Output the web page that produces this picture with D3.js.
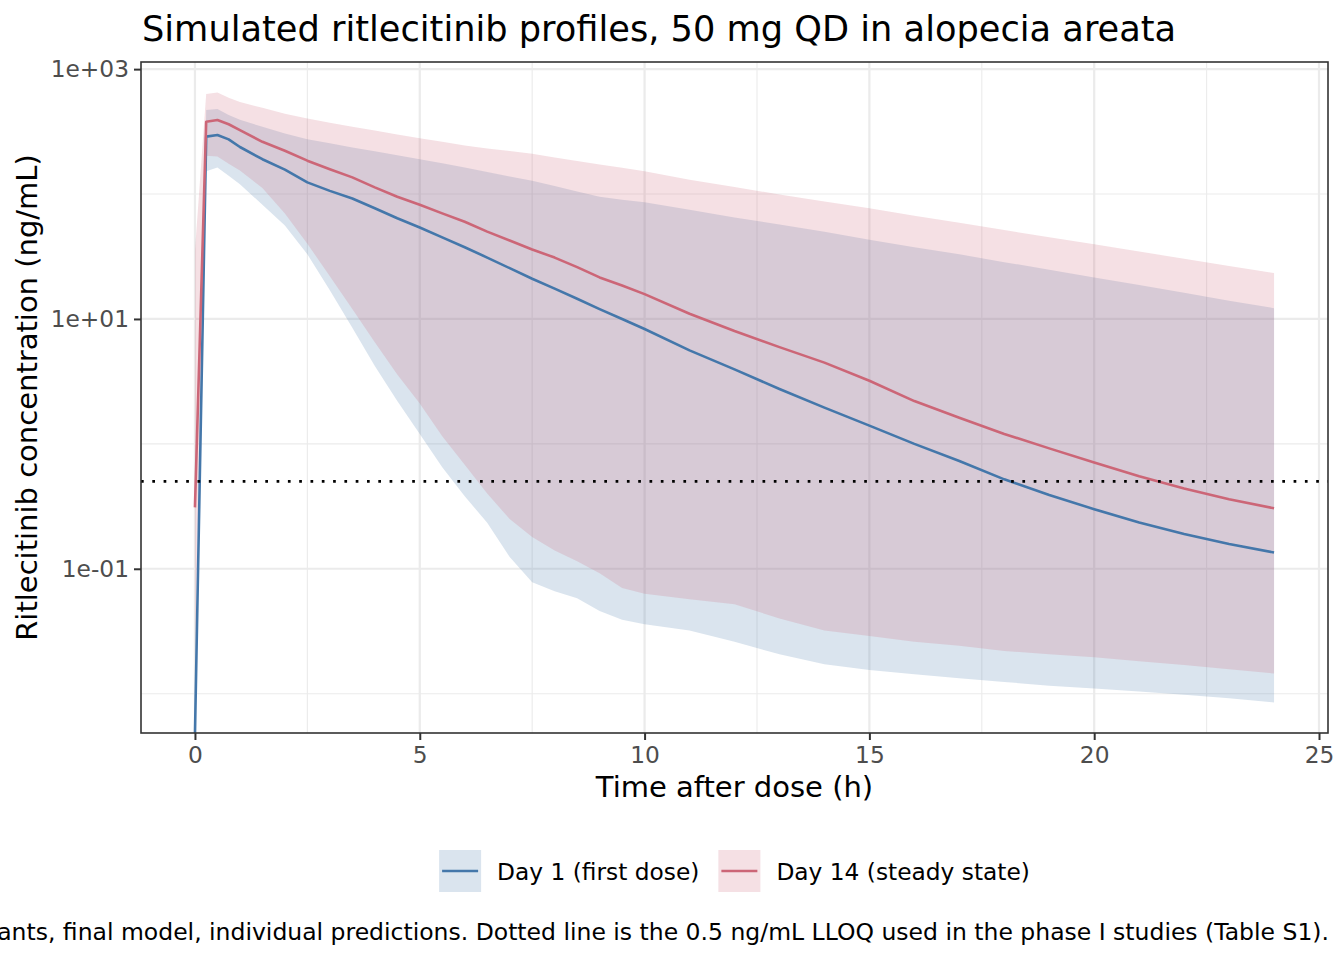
<!DOCTYPE html>
<html>
<head>
<meta charset="utf-8">
<script src="https://cdn.jsdelivr.net/npm/d3@7"></script>
<style>
  html, body { margin: 0; padding: 0; background: #ffffff; }
  svg { display: block; font-family: "DejaVu Sans", sans-serif; }
</style>
</head>
<body>
<svg id="chart" width="1344" height="960"></svg>
<script>
// ---- Data ----
const times = [0,0.25,0.5,0.75,1,1.5,2,2.5,3,3.5,4,4.5,5,5.5,6,6.5,7,7.5,8,8.5,9,9.5,10,11,12,13,14,15,16,17,18,19,20,21,22,23,24];

const day1Median = [0,288,297,274,238,190,157,124,106,92,77,64,54,45,37.5,31,25.5,21,17.5,14.5,12,10,8.3,5.6,3.95,2.75,1.95,1.40,1.0,0.73,0.52,0.39,0.30,0.235,0.19,0.158,0.135];
const day1Lower  = [0,152,163,140,120,82,56,33,17,8.5,4.2,2.2,1.2,0.65,0.38,0.234,0.124,0.078,0.066,0.058,0.046,0.039,0.036,0.032,0.026,0.0207,0.0172,0.0155,0.0143,0.0133,0.0124,0.0116,0.011,0.0104,0.0098,0.0092,0.0085];
const day1Upper  = [0,470,479,430,393,345,305,275,255,236,220,204,190,176,163,150,138,128,116,105,95,90,86,75,65,57,50,43,37.5,33,28.5,24.8,21.5,18.7,16.2,14,12.2];

const day14Median = [0.31,379,391,362,325,262,222,185,158,136,113,95,82,70,60,50,42.5,36,31,26,21.5,18.5,15.8,11,8,5.95,4.47,3.2,2.2,1.62,1.2,0.92,0.71,0.55,0.44,0.36,0.305];
const day14Lower  = [0.02,203,200,175,154,112,70,40,22,12,6.5,3.6,2.1,1.15,0.68,0.40,0.25,0.18,0.14,0.115,0.092,0.07,0.063,0.057,0.052,0.04,0.032,0.029,0.026,0.0242,0.022,0.0207,0.0196,0.0182,0.017,0.0157,0.0145];
const day14Upper  = [35,631,650,590,545,490,440,403,372,345,322,300,280,262,245,232,221,210,196,184,172,162,152,130,114,99,87,77,67,59,51.5,45,39.6,34.6,30.4,26.5,23.3];

const seriesNames = ["Day 1 (first dose)", "Day 14 (steady state)"];
const seriesColors = ["#4477AA", "#CC6677"];
const xTicks = [0, 5, 10, 15, 20, 25];
const xMinor = [2.5, 7.5, 12.5, 17.5, 22.5];
const yTicks = [0.1, 10, 1000];
const yTickLabels = ["1e-01", "1e+01", "1e+03"];
const yMinor = [0.01, 1, 100];
const lloq = 0.5;

const titleText = "Simulated ritlecitinib profiles, 50 mg QD in alopecia areata";
const xTitle = "Time after dose (h)";
const yTitle = "Ritlecitinib concentration (ng/mL)";
const captionText = "Lines are medians and ribbons 90% prediction intervals for simulated participants, final model, individual predictions. Dotted line is the 0.5 ng/mL LLOQ used in the phase I studies (Table S1).";

// ---- Layout ----
const W = 1344, H = 960;
const panel = { left: 141, right: 1328, top: 62, bottom: 733 };

const svg = d3.select("#chart");
svg.append("rect").attr("width", W).attr("height", H).attr("fill", "#ffffff");

// Scales (ggplot-like 5% expansion)
const xExt = d3.extent(times);
const xPad = (xExt[1] - xExt[0]) * 0.05;
const x = d3.scaleLinear().domain([xExt[0] - xPad, xExt[1] + xPad]).range([panel.left, panel.right]);

const allPos = [].concat(day1Median, day1Lower, day1Upper, day14Median, day14Lower, day14Upper).filter(v => v > 0);
const lmin = Math.log10(d3.min(allPos)), lmax = Math.log10(d3.max(allPos));
const lpad = (lmax - lmin) * 0.05;
const y = d3.scaleLog().domain([Math.pow(10, lmin - lpad), Math.pow(10, lmax + lpad)]).range([panel.bottom, panel.top]);
const yv = v => (v > 0 ? y(v) : panel.bottom + 2);

// Clip
svg.append("defs").append("clipPath").attr("id", "panelClip")
  .append("rect").attr("x", panel.left).attr("y", panel.top)
  .attr("width", panel.right - panel.left).attr("height", panel.bottom - panel.top);

// Grid
const grid = svg.append("g");
grid.selectAll(".ymin").data(yMinor).enter().append("line")
  .attr("x1", panel.left).attr("x2", panel.right)
  .attr("y1", d => y(d)).attr("y2", d => y(d))
  .attr("stroke", "#EBEBEB").attr("stroke-width", 1.1);
grid.selectAll(".xmin").data(xMinor).enter().append("line")
  .attr("y1", panel.top).attr("y2", panel.bottom)
  .attr("x1", d => x(d)).attr("x2", d => x(d))
  .attr("stroke", "#EBEBEB").attr("stroke-width", 1.1);
grid.selectAll(".ymaj").data(yTicks).enter().append("line")
  .attr("x1", panel.left).attr("x2", panel.right)
  .attr("y1", d => y(d)).attr("y2", d => y(d))
  .attr("stroke", "#EBEBEB").attr("stroke-width", 2.2);
grid.selectAll(".xmaj").data(xTicks).enter().append("line")
  .attr("y1", panel.top).attr("y2", panel.bottom)
  .attr("x1", d => x(d)).attr("x2", d => x(d))
  .attr("stroke", "#EBEBEB").attr("stroke-width", 2.2);

// Data
const series = [
  { name: seriesNames[0], color: seriesColors[0], med: day1Median, lo: day1Lower, hi: day1Upper },
  { name: seriesNames[1], color: seriesColors[1], med: day14Median, lo: day14Lower, hi: day14Upper }
];
const plot = svg.append("g").attr("clip-path", "url(#panelClip)");

const area = d3.area().x(d => x(d.t)).y0(d => yv(d.lo)).y1(d => yv(d.hi));
const line = d3.line().x(d => x(d.t)).y(d => yv(d.m));

series.forEach(s => {
  const pts = times.map((t, i) => ({ t, lo: s.lo[i], hi: s.hi[i] }));
  plot.append("path").attr("d", area(pts)).attr("fill", s.color).attr("fill-opacity", 0.2);
});
series.forEach(s => {
  const pts = times.map((t, i) => ({ t, m: s.med[i] }));
  plot.append("path").attr("d", line(pts)).attr("fill", "none")
    .attr("stroke", s.color).attr("stroke-width", 2.6).attr("stroke-linejoin", "round");
});

// LLOQ dotted line
plot.append("line")
  .attr("x1", panel.left).attr("x2", panel.right)
  .attr("y1", y(lloq)).attr("y2", y(lloq))
  .attr("stroke", "#000000").attr("stroke-width", 2.7)
  .attr("stroke-dasharray", "2.7,8.6");

// Panel border
svg.append("rect").attr("x", panel.left).attr("y", panel.top)
  .attr("width", panel.right - panel.left).attr("height", panel.bottom - panel.top)
  .attr("fill", "none").attr("stroke", "#333333").attr("stroke-width", 1.6);

// Axes
const xAxis = d3.axisBottom(x).tickValues(xTicks).tickSize(7).tickPadding(6).tickFormat(d3.format("d"));
const gx = svg.append("g").attr("transform", `translate(0,${panel.bottom})`).call(xAxis);
gx.select(".domain").remove();
gx.selectAll(".tick line").attr("stroke", "#333333").attr("stroke-width", 2);
gx.selectAll(".tick text").attr("fill", "#4D4D4D").attr("font-size", 23.3)
  .attr("font-family", "DejaVu Sans");

const yAxis = d3.axisLeft(y).tickValues(yTicks).tickSize(7).tickPadding(5)
  .tickFormat((d, i) => yTickLabels[i]);
const gy = svg.append("g").attr("transform", `translate(${panel.left},0)`).call(yAxis);
gy.select(".domain").remove();
gy.selectAll(".tick line").attr("stroke", "#333333").attr("stroke-width", 2);
gy.selectAll(".tick text").attr("fill", "#4D4D4D").attr("font-size", 23.3)
  .attr("font-family", "DejaVu Sans");

// Titles
svg.append("text").attr("x", panel.left + 1).attr("y", 41)
  .attr("font-size", 35.2).attr("fill", "#000").text(titleText);

svg.append("text").attr("x", (panel.left + panel.right) / 2).attr("y", 797)
  .attr("text-anchor", "middle").attr("font-size", 29).attr("fill", "#000").text(xTitle);

svg.append("text").attr("transform", `translate(37,${(panel.top + panel.bottom) / 2}) rotate(-90)`)
  .attr("text-anchor", "middle").attr("font-size", 29).attr("fill", "#000").text(yTitle);

// Legend
const legend = svg.append("g");
const keySize = 42, keyGap = 16, itemGap = 19;
const legendItems = series.map(s => {
  const g = legend.append("g");
  g.append("rect").attr("width", keySize).attr("height", keySize).attr("fill", s.color).attr("fill-opacity", 0.2);
  g.append("line").attr("x1", 3).attr("x2", keySize - 3).attr("y1", keySize / 2).attr("y2", keySize / 2)
    .attr("stroke", s.color).attr("stroke-width", 2.6);
  const t = g.append("text").attr("x", keySize + keyGap).attr("y", keySize / 2 + 8.5)
    .attr("font-size", 23.3).attr("fill", "#000").text(s.name);
  return { g, w: keySize + keyGap + t.node().getComputedTextLength() };
});
const totalW = d3.sum(legendItems, d => d.w) + itemGap * (legendItems.length - 1);
let lx = (panel.left + panel.right) / 2 - totalW / 2;
legendItems.forEach(it => {
  it.g.attr("transform", `translate(${lx},850)`);
  lx += it.w + itemGap;
});

// Caption (right aligned, overflowing the left edge as in the reference)
svg.append("text").attr("x", 1329).attr("y", 940).attr("text-anchor", "end")
  .attr("font-size", 23.5).attr("fill", "#000").text(captionText);
</script>
</body>
</html>
